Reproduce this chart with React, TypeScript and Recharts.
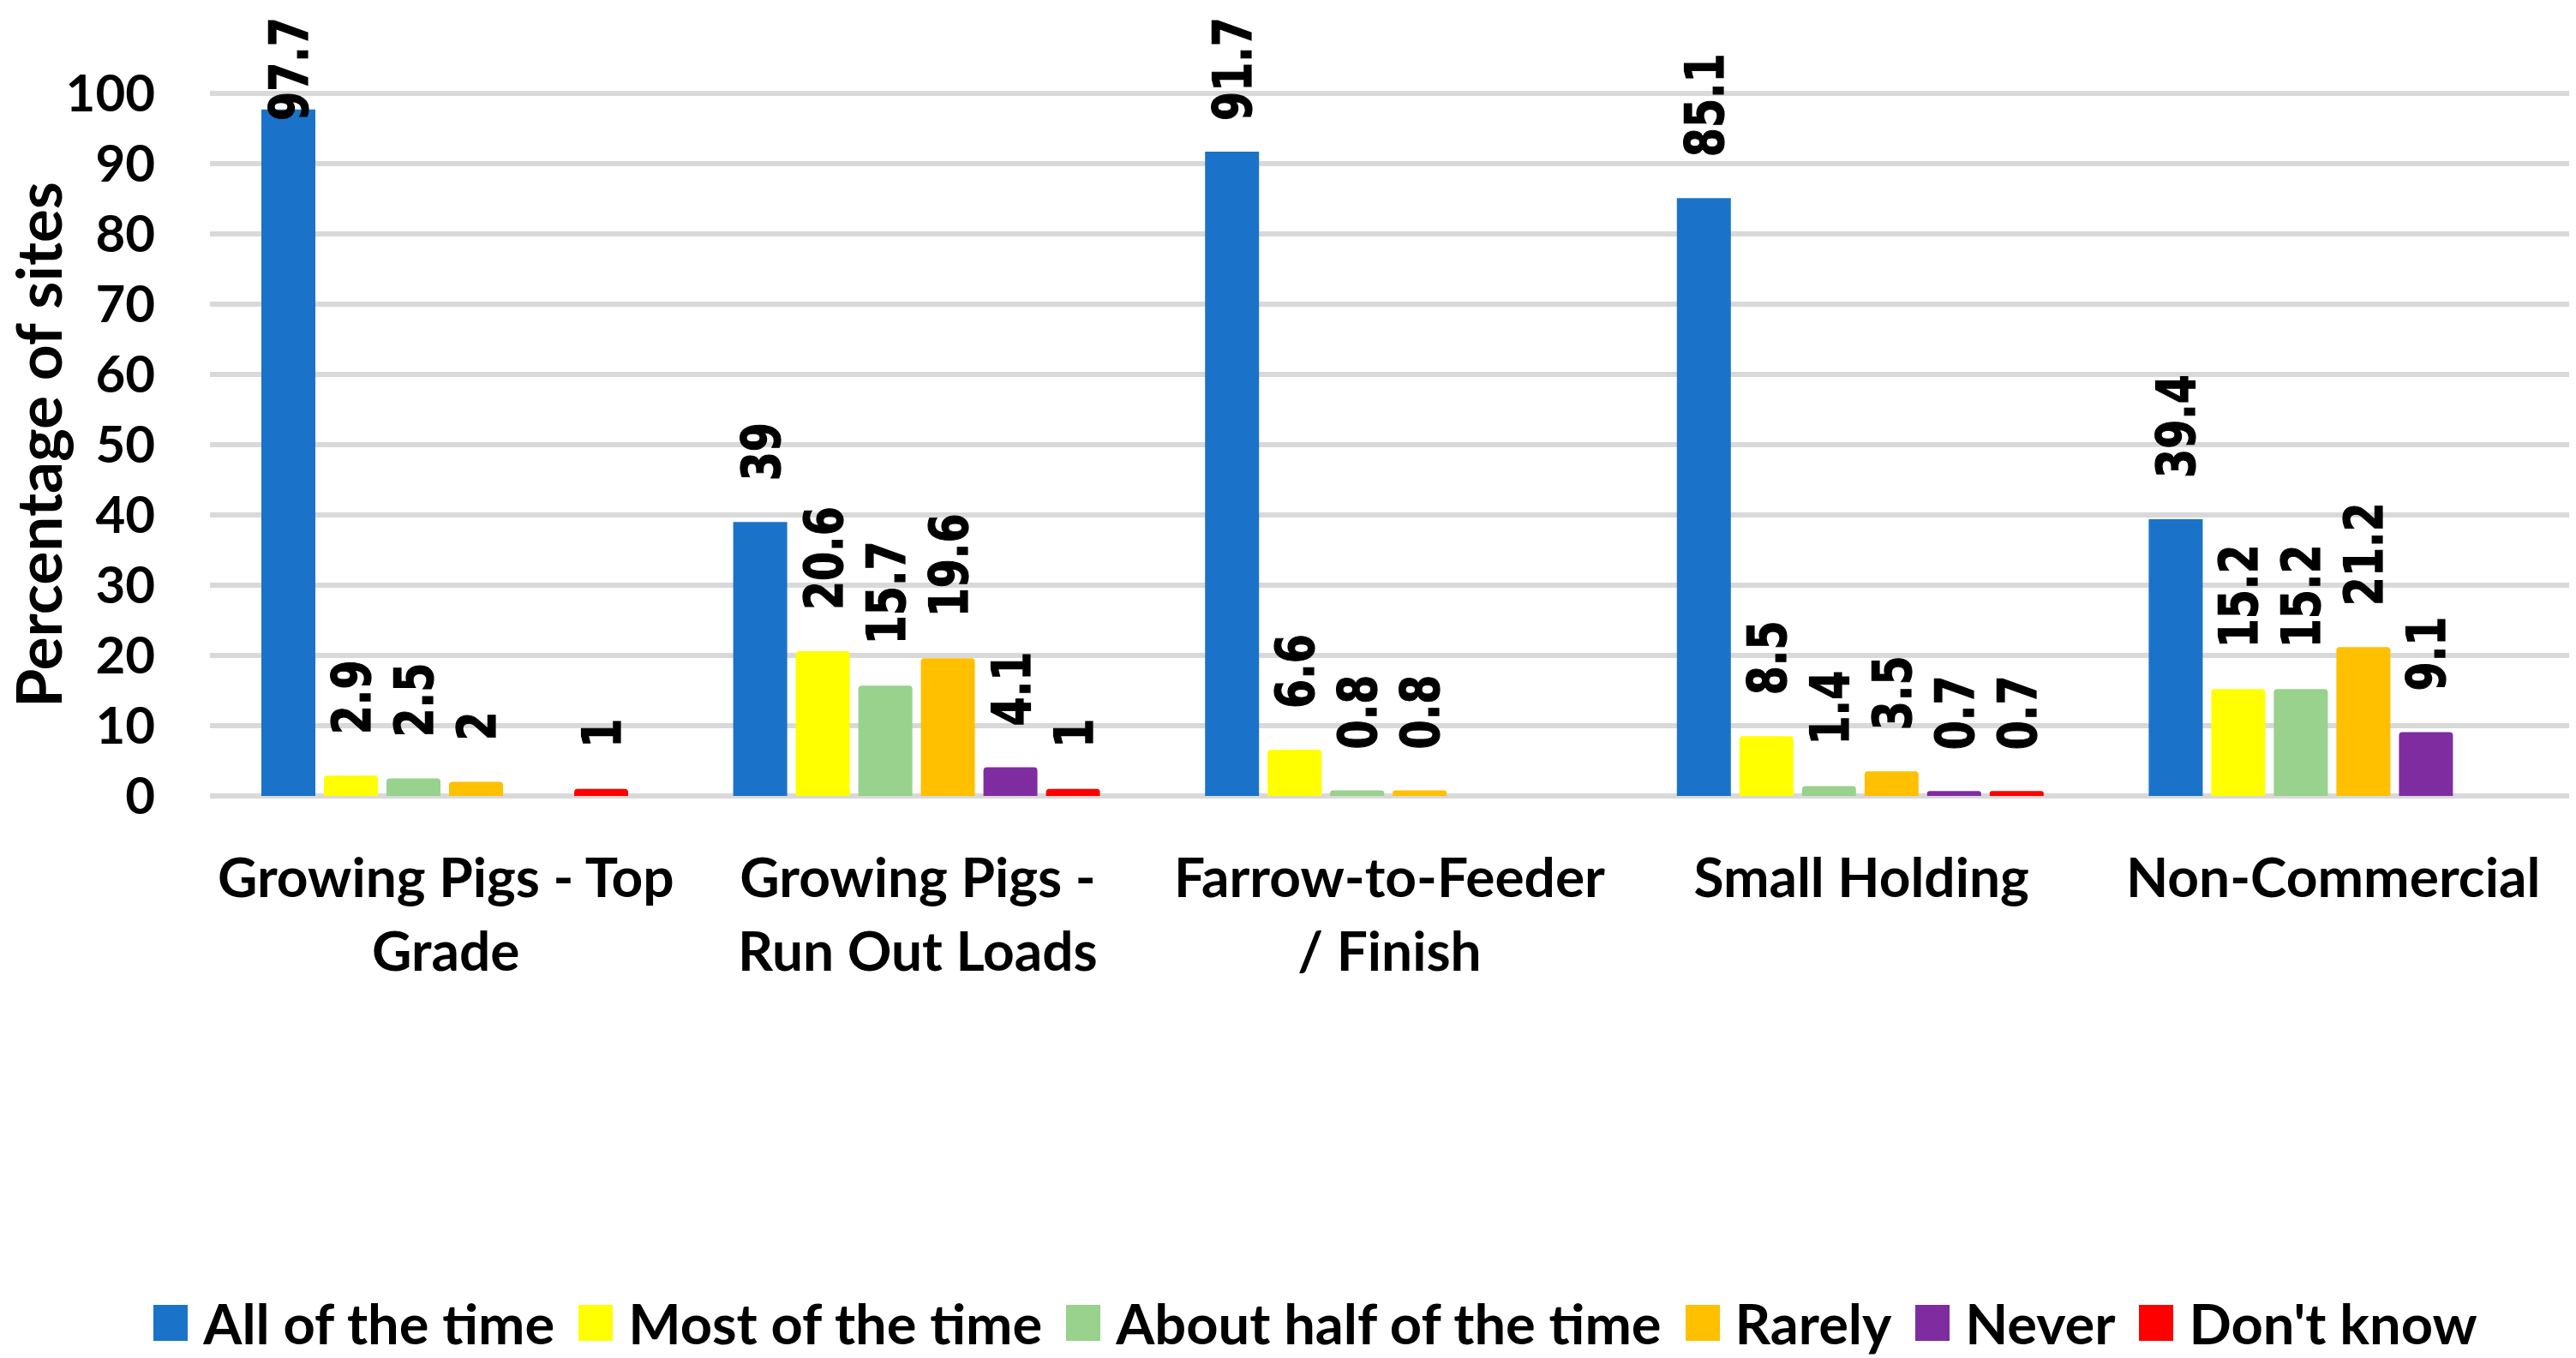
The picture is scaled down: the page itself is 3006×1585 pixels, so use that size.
import React from "react";
import { BarChart, Bar, XAxis, YAxis, CartesianGrid, LabelList } from "recharts";

// category names (\n marks where the axis label wraps)
const categories = [
  "Growing Pigs - Top\nGrade",
  "Growing Pigs -\nRun Out Loads",
  "Farrow-to-Feeder\n/ Finish",
  "Small Holding",
  "Non-Commercial",
];

const seriesNames = [
  "All of the time",
  "Most of the time",
  "About half of the time",
  "Rarely",
  "Never",
  "Don't know",
];

const allOfTheTime = [97.7, 39, 91.7, 85.1, 39.4];
const mostOfTheTime = [2.9, 20.6, 6.6, 8.5, 15.2];
const aboutHalfOfTheTime = [2.5, 15.7, 0.8, 1.4, 15.2];
const rarely = [2, 19.6, 0.8, 3.5, 21.2];
const never = [null, 4.1, null, 0.7, 9.1];
const dontKnow = [1, 1, null, 0.7, null];

const yTicks = [0, 10, 20, 30, 40, 50, 60, 70, 80, 90, 100];

const COLORS = ["#1A73C8", "#FFFF00", "#98D28C", "#FFC000", "#7F2CA0", "#FF0000"];

const seriesValues = [allOfTheTime, mostOfTheTime, aboutHalfOfTheTime, rarely, never, dontKnow];

const data = categories.map((name, i) => {
  const row: Record<string, any> = { name };
  seriesValues.forEach((vals, s) => {
    row["s" + s] = vals[i];
  });
  return row;
});

const LABEL_FONT = "Lato, 'Noto Sans', sans-serif";

const ValueLabel = (props: any) => {
  const { x, y, width, value } = props;
  if (value === null || value === undefined) return null;
  const text = String(value);
  const size = 62;
  const sx = 0.79;
  const len =
    text.split("").reduce((a, c) => a + (c === "." ? 0.38 : 0.696), 0) * size * sx;
  const cx = Number(x) + Number(width) / 2;
  const by = Math.max(Number(y) - 48, 20 + len);
  const bx = cx + (0.729 * size) / 2;
  return (
    <text
      transform={`translate(${bx},${by}) rotate(-90) scale(${sx},1)`}
      fontFamily="'DejaVu Sans'"
      fontWeight="bold"
      fontSize={size}
      fill="#000"
      stroke="#000"
      strokeWidth={1.2}
    >
      {text}
    </text>
  );
};

const CategoryTick = (props: any) => {
  const { x, y, payload } = props;
  const lines = String(payload.value).split("\n");
  return (
    <g>
      {lines.map((line, i) => (
        <text
          key={i}
          x={x}
          y={Number(y) + 118 + i * 86}
          textAnchor="middle"
          fontFamily={LABEL_FONT}
          fontWeight="bold"
          fontSize={64}
          fill="#000"
        >
          {line}
        </text>
      ))}
    </g>
  );
};

export default function App() {
  return (
    <div style={{ position: "relative", width: 3006, height: 1585, background: "#fff" }}>
      <style>{`body{margin:0}`}</style>
      <BarChart
        width={3006}
        height={1585}
        data={data}
        margin={{ top: 109, right: 8, bottom: 0, left: 0 }}
        barCategoryGap={60}
        barGap={10}
      >
        <CartesianGrid vertical={false} stroke="#D9D9D9" strokeWidth={6} />
        <XAxis
          dataKey="name"
          height={656}
          axisLine={false}
          tickLine={false}
          tickSize={0}
          tickMargin={0}
          interval={0}
          tick={<CategoryTick />}
        />
        <YAxis
          width={245}
          domain={[0, 100]}
          ticks={yTicks}
          axisLine={false}
          tickLine={false}
          tickSize={0}
          tickMargin={64}
          tick={{ fontFamily: LABEL_FONT, fontWeight: "bold", fontSize: 60, fill: "#000" }}
          label={{
            value: "Percentage of sites",
            angle: -90,
            position: "center",
            dx: -76,
            style: { fontFamily: LABEL_FONT, fontWeight: "bold", fontSize: 73, fill: "#000" },
          }}
        />
        {seriesNames.map((name, s) => (
          <Bar
            key={name}
            dataKey={"s" + s}
            name={name}
            fill={COLORS[s]}
            radius={s === 0 ? 0 : [4, 4, 0, 0]}
            isAnimationActive={false}
          >
            <LabelList dataKey={"s" + s} content={ValueLabel} />
          </Bar>
        ))}
      </BarChart>
      <div
        style={{
          position: "absolute",
          top: 1508,
          left: 0,
          width: 3006,
          paddingLeft: 64,
          boxSizing: "border-box",
          display: "flex",
          justifyContent: "center",
          alignItems: "center",
          fontFamily: LABEL_FONT,
          fontWeight: "bold",
          fontSize: 65,
          color: "#000",
          lineHeight: "72px",
        }}
      >
        {seriesNames.map((name, s) => (
          <div key={name} style={{ display: "flex", alignItems: "center", marginRight: s === seriesNames.length - 1 ? 0 : 28 }}>
            <span style={{ display: "inline-block", width: 40, height: 42, background: COLORS[s], marginRight: 18 }} />
            <span>{name}</span>
          </div>
        ))}
      </div>
    </div>
  );
}
